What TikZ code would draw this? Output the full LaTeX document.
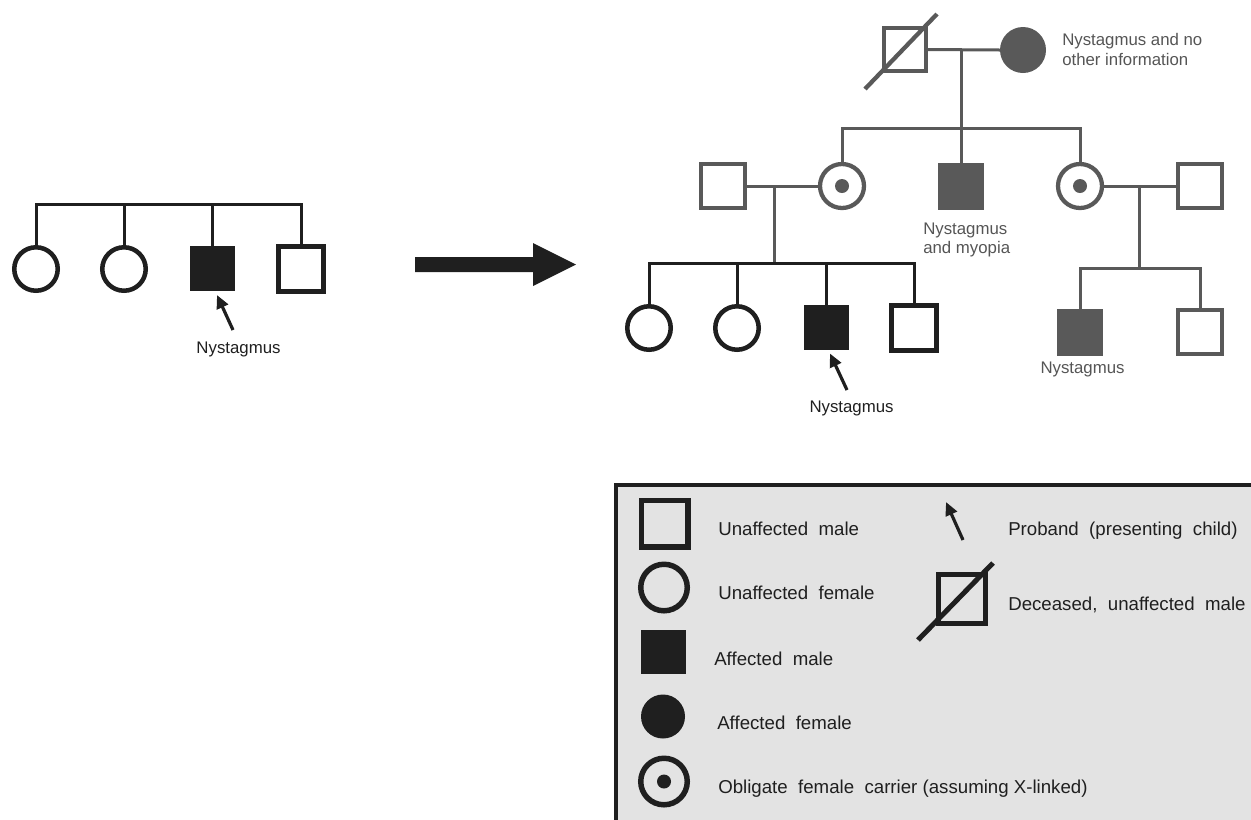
\documentclass[tikz,border=0pt]{standalone}
\usepackage{fontspec}
\setmainfont{Liberation Sans}
\usetikzlibrary{arrows.meta,calc}
\definecolor{ink}{HTML}{1F1F1F}
\definecolor{gry}{HTML}{595959}
\definecolor{gtxt}{HTML}{555555}
\definecolor{legbg}{HTML}{E3E3E3}
\begin{document}
\begin{tikzpicture}[x=0.75pt,y=-0.75pt,
  psym/.style={inner sep=0pt,outer sep=0pt},
  bline/.style={draw=ink,line width=2.25pt},
  gline/.style={draw=gry,line width=2.25pt},
  bsq/.style={psym,rectangle,draw=ink,line width=3.4pt,minimum size=34.1pt},
  bci/.style={psym,circle,draw=ink,line width=3.4pt,minimum size=32.6pt},
  bfsq/.style={psym,rectangle,fill=ink,minimum size=33.75pt},
  gsq/.style={psym,rectangle,draw=gry,line width=3.2pt,minimum size=33pt},
  gci/.style={psym,circle,draw=gry,line width=3.2pt,minimum size=33pt},
  gfsq/.style={psym,rectangle,fill=gry,minimum width=34.5pt,minimum height=35.25pt},
  gfci/.style={psym,circle,fill=gry,minimum size=34.5pt},
  gcarrier/.style={gci,path picture={\fill[gry] (path picture bounding box.center) circle (5.25pt);}},
  gdec/.style={psym,rectangle,draw=gry,line width=3.2pt,minimum width=31.5pt,minimum height=32.25pt},
  lsq/.style={psym,rectangle,draw=ink,line width=4.1pt,minimum size=34.9pt},
  lci/.style={psym,circle,draw=ink,line width=4.1pt,minimum size=34.9pt},
  lfsq/.style={psym,rectangle,fill=ink,minimum width=33.75pt,minimum height=33pt},
  lfci/.style={psym,circle,fill=ink,minimum size=33pt},
  lcarrier/.style={lci,path picture={\fill[ink] (path picture bounding box.center) circle (5.25pt);}},
  ldec/.style={psym,rectangle,draw=ink,line width=3.75pt,minimum width=35.25pt,minimum height=36.75pt},
  proband/.style={draw=ink,line width=2.4pt,-{Triangle[length=10pt,width=9pt]}},
  ptxt/.style={inner sep=0pt,font=\fontsize{12.6pt}{15pt}\selectfont},
  ltxt/.style={inner sep=0pt,anchor=base west,text=ink,font=\fontsize{14pt}{17pt}\selectfont}
]
\useasboundingbox (0,0) rectangle (1251,819);
\clip (0,0) rectangle (1251,819);

% ---------------- left pedigree ----------------
\node[bci]  (L1) at (36,269) {};
\node[bci]  (L2) at (124,269) {};
\node[bfsq] (L3) at (212.5,268.5) {};
\node[bsq]  (L4) at (301,269) {};
\coordinate (Lbar) at (168,204);
\draw[bline] (L1.north) -- (L1.north |- Lbar) -- (L4.north |- Lbar) -- (L4.north);
\draw[bline] (L2.north) -- (L2.north |- Lbar);
\draw[bline] (L3.north) -- (L3.north |- Lbar);
\node[ptxt,anchor=base,text=ink] (LN) at (238.5,353) {Nystagmus};
\coordinate (Ltail) at (233,330);
\draw[proband] (Ltail) -- ($(L3.south)+(4.5,4)$);

% ---------------- big arrow ----------------
\fill[ink] (415,257) -- (533,257) -- (533,243) -- (576,264.5) -- (533,286) -- (533,272) -- (415,272) -- cycle;

% ---------------- right pedigree ----------------
% generation I
\node[gdec] (GF) at (905,49.5) {};
\draw[gry,line width=3.2pt] ($(GF.center)+(-40,39.5)$) -- ($(GF.center)+(32,-35.5)$);
\node[gfci] (GM) at (1023,50) {};
\draw[gline] (GF.east) -- (GM.west);
\node[ptxt,anchor=base west,text=gtxt,align=left,font=\fontsize{12.6pt}{15pt}\selectfont] (GMt) at (1062,65) {Nystagmus and no\\other information};

% generation II
\node[gsq]      (H1) at (723,186) {};
\node[gcarrier] (C1) at (842,186) {};
\node[gfsq]     (A2) at (961,186) {};
\node[gcarrier] (C2) at (1080,186) {};
\node[gsq]      (H2) at (1200,186) {};
\coordinate (Sbar) at (961,128);
\draw[gline] (A2.north) -- (A2.north |- GF.east);
\draw[gline] (C1.north) -- (C1.north |- Sbar) -- (C2.north |- Sbar) -- (C2.north);
\draw[gline] (H1.east) -- (C1.west);
\draw[gline] (C2.east) -- (H2.west);
\node[ptxt,anchor=base west,text=gtxt,align=left,font=\fontsize{12.6pt}{14.25pt}\selectfont] (A2t) at (923,253) {Nystagmus\\and myopia};

% generation III (left family)
\node[bci]  (T1) at (649,328) {};
\node[bci]  (T2) at (737,328) {};
\node[bfsq] (T3) at (826,327.5) {};
\node[bsq]  (T4) at (914,328) {};
\coordinate (M1) at (774,186);
\coordinate (Tbar) at (774,263);
\draw[gline] (M1) -- (Tbar);
\draw[bline] (T1.north) -- (T1.north |- Tbar) -- (T4.north |- Tbar) -- (T4.north);
\draw[bline] (T2.north) -- (T2.north |- Tbar);
\draw[bline] (T3.north) -- (T3.north |- Tbar);
\node[ptxt,anchor=base,text=ink] (T3t) at (851.5,412) {Nystagmus};
\coordinate (Ttail) at (847,390);
\draw[proband] (Ttail) -- ($(T3.south)+(4,3.5)$);

% generation III (right family)
\node[gfsq] (R1) at (1080,332) {};
\node[gsq]  (R2) at (1200,332) {};
\coordinate (M2) at (1139,186);
\coordinate (Rbar) at (1139,268);
\draw[gline] (M2) -- (Rbar);
\draw[gline] (R1.north) -- (R1.north |- Rbar) -- (R2.north |- Rbar) -- (R2.north);
\node[ptxt,anchor=base,text=gtxt] (R1t) at (1082.5,373) {Nystagmus};

% ---------------- legend ----------------
\draw[draw=ink,line width=3pt,fill=legbg] (616,485) rectangle (1300,900);
\node[lsq]      (K1) at (664.5,523.5) {};
\node[lci]      (K2) at (664,587.5) {};
\node[lfsq]     (K3) at (663.5,652) {};
\node[lfci]     (K4) at (663,716.5) {};
\node[lcarrier] (K5) at (664,781.5) {};
\node[ltxt] (K1t) at (718,535) {Unaffected\ \ male};
\node[ltxt] (K2t) at (718,599) {Unaffected\ \ female};
\node[ltxt] (K3t) at (714,665) {Affected\ \ male};
\node[ltxt] (K4t) at (717,729) {Affected\ \ female};
\node[ltxt] (K5t) at (718,793) {Obligate\ \ female\ \ carrier (assuming X-linked)};
\coordinate (Ktail) at (963,540);
\coordinate (Ktip) at (946,502);
\draw[proband] (Ktail) -- (Ktip);
\node[ltxt] (K6t) at (1008,535) {Proband\ \ (presenting\ \ child)};
\node[ldec] (K7) at (962,599) {};
\draw[ink,line width=3.75pt] ($(K7.center)+(-44,41)$) -- ($(K7.center)+(31,-36)$);
\node[ltxt] (K7t) at (1008,610) {Deceased,\ \ unaffected\ \ male};
\end{tikzpicture}
\end{document}
